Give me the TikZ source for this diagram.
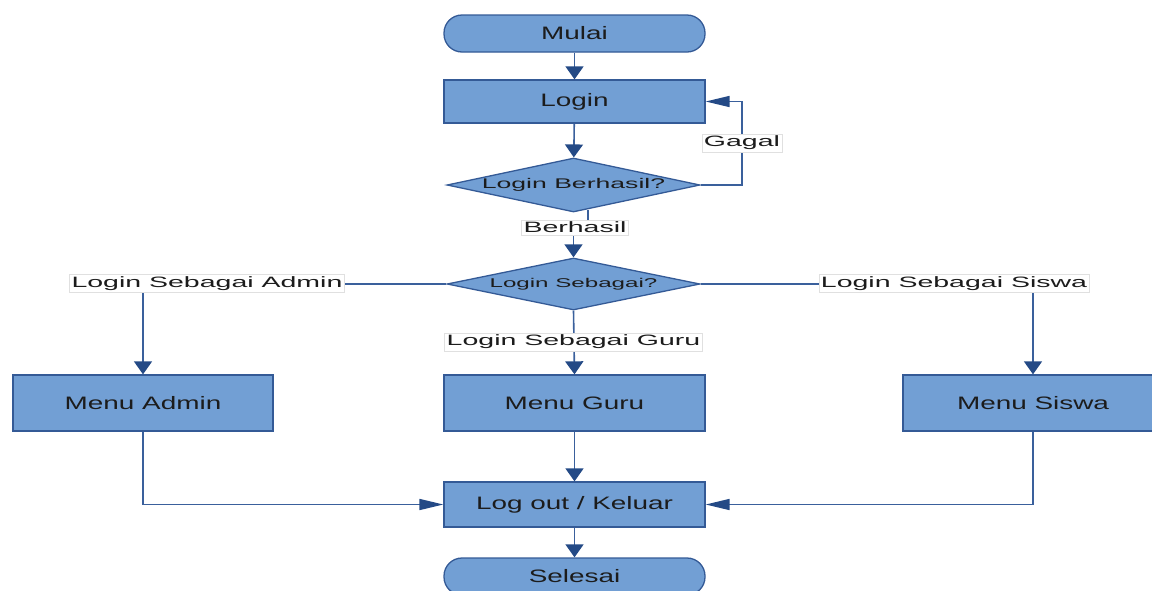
\documentclass[tikz,border=0pt]{standalone}
\usepackage{fontspec}
\newfontfamily\boxfont{Liberation Sans}[FakeStretch=1.55]
\newfontfamily\labfont{Liberation Sans}[FakeStretch=1.9]
\usetikzlibrary{arrows.meta,shapes.geometric}
\definecolor{fillblue}{RGB}{114,159,212}
\definecolor{edgeblue}{RGB}{52,90,150}
\definecolor{lineblue}{RGB}{58,96,156}
\definecolor{tipblue}{RGB}{36,74,134}
\definecolor{txt}{RGB}{28,28,28}
\tikzset{
  proc/.style={rectangle, draw=edgeblue, line width=1.3pt, fill=fillblue,
    minimum width=261pt, inner sep=0pt, text=txt,
    font=\boxfont\fontsize{18}{20}\selectfont},
  term/.style={proc, rounded corners=18pt, minimum height=37pt},
  dec/.style={diamond, draw=edgeblue, line width=1.3pt, fill=fillblue,
    minimum width=253pt, minimum height=54pt, inner sep=0pt},
  dtext/.style={inner sep=0pt, text=txt},
  lab/.style={fill=white, draw=black!12, line width=0.6pt, inner sep=2pt,
    text=txt, font=\labfont\fontsize{15}{17}\selectfont},
  flow/.style={draw=lineblue, line width=1.6pt},
  vtip/.style={-{Triangle[width=18pt,length=13pt,color=tipblue]}},
  htip/.style={-{Triangle[width=11pt,length=24pt,color=tipblue]}},
}
\begin{document}
\begin{tikzpicture}[x=1pt,y=-1pt]
\useasboundingbox (0,0) rectangle (1152,590);
% nodes
\node[term] (mulai) at (574.5,33.5) {Mulai};
\node[proc, minimum height=43pt] (login) at (574.5,101.5) {Login};
\node[dec] (d1) at (573.5,185) {};
\node[dtext, font=\labfont\fontsize{14}{16}\selectfont] (d1t) at (d1.center) {Login Berhasil?};
\node[dec, minimum height=52pt] (d2) at (573.5,284) {};
\node[dtext, font=\labfont\fontsize{12.7}{14}\selectfont] (d2t) at (d2.center) {Login Sebagai?};
\node[proc, minimum width=260pt, minimum height=56pt] (madmin) at (143,403) {Menu Admin};
\node[proc, minimum height=56pt] (mguru) at (574.5,403) {Menu Guru};
\node[proc, minimum width=260pt, minimum height=56pt] (msiswa) at (1033,403) {Menu Siswa};
\node[proc, minimum height=45pt] (logout) at (574.5,504.5) {Log out / Keluar};
\node[term] (selesai) at (574.5,576.5) {Selesai};
% coordinates
\coordinate (g1) at (742,185);
\coordinate (g2) at (742,101.5);
\coordinate (b1) at (588,210);
\coordinate (b2) at (588,228);
\coordinate (b3) at (573.5,228);
\coordinate (ca) at (143,284);
\coordinate (cs) at (1033,284);
\coordinate (la) at (143,504.5);
\coordinate (ls) at (1033,504.5);
% connectors
\draw[flow,vtip] (mulai) -- (login);
\draw[flow,vtip] (login) -- (d1);
\draw[flow,htip] (d1.east) -- (g1) -- (g2) -- (login.east);
\draw[flow,vtip] (b1) -- (b2) -- (b3) -- (d2.north);
\draw[flow,vtip] (d2.west) -- (ca) -- (madmin.north);
\draw[flow,vtip] (d2.east) -- (cs) -- (msiswa.north);
\draw[flow,vtip] (d2.south) -- (mguru.north);
\draw[flow,vtip] (mguru) -- (logout);
\draw[flow,htip] (madmin.south) -- (la) -- (logout.west);
\draw[flow,htip] (msiswa.south) -- (ls) -- (logout.east);
\draw[flow,vtip] (logout) -- (selesai);
% labels
\node[lab] (gagal) at (742,143) {Gagal};
\node[lab] (berhasil) at (575,227.5) {Berhasil};
\node[lab] (ladmin) at (207,283.5) {Login Sebagai Admin};
\node[lab] (lsiswa) at (954,283.5) {Login Sebagai Siswa};
\node[lab] (lguru) at (573.5,342) {Login Sebagai Guru};
\end{tikzpicture}
\end{document}
